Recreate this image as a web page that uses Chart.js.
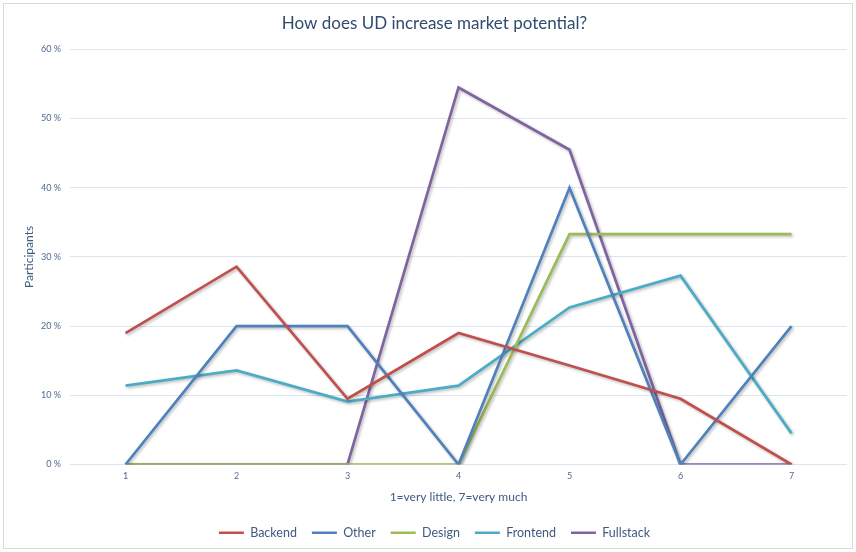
<!DOCTYPE html>
<html>
<head>
<meta charset="utf-8">
<script src="https://cdn.jsdelivr.net/npm/chart.js@4.4.0/dist/chart.umd.min.js"></script>
<style>
  html, body { margin: 0; padding: 0; background: #ffffff; }
  #wrap { width: 856px; height: 552px; position: relative; }
</style>
</head>
<body>
<div id="wrap"><canvas id="c" width="856" height="552"></canvas></div>
<script>
// Share of participants (%) per rating, by developer role
const ratings   = ['1', '2', '3', '4', '5', '6', '7'];
const backend   = [19.0, 28.6, 9.5, 19.0, 14.3, 9.5, 0];
const other     = [0, 20, 20, 0, 40, 0, 20];
const design    = [0, 0, 0, 0, 33.3, 33.3, 33.3];
const frontend  = [11.4, 13.6, 9.1, 11.4, 22.7, 27.3, 4.5];
const fullstack = [0, 0, 0, 54.5, 45.5, 0, 0];
const yTicks    = [0, 10, 20, 30, 40, 50, 60];

const FONT = 'Lato, "Open Sans", sans-serif';

// soft drop shadow under each line, plus the thin frame round the chart
const decor = {
  id: 'decor',
  beforeDatasetDraw(chart) {
    const ctx = chart.ctx;
    ctx.save();
    ctx.shadowColor = 'rgba(0,0,0,0.28)';
    ctx.shadowBlur = 3;
    ctx.shadowOffsetX = 1.5;
    ctx.shadowOffsetY = 1.5;
  },
  afterDatasetDraw(chart) {
    chart.ctx.restore();
  },
  afterDraw(chart) {
    const ctx = chart.ctx;
    ctx.save();
    ctx.strokeStyle = '#d9d9d9';
    ctx.lineWidth = 1;
    ctx.strokeRect(3.5, 3.5, 849, 545);
    ctx.restore();
  }
};

function series(label, data, color) {
  return {
    label, data,
    borderColor: color,
    backgroundColor: color,
    borderWidth: 2.7,
    pointRadius: 0,
    pointHoverRadius: 0,
    tension: 0,
    fill: false
  };
}

new Chart(document.getElementById('c'), {
  type: 'line',
  data: {
    labels: ratings,
    datasets: [
      series('Backend', backend, '#c0504d'),
      series('Other', other, '#4f81bd'),
      series('Design', design, '#9bbb59'),
      series('Frontend', frontend, '#4bacc6'),
      series('Fullstack', fullstack, '#8064a2')
    ]
  },
  options: {
    responsive: false,
    animation: false,
    events: [],
    layout: { padding: { left: 22, right: 9, top: 0, bottom: 3 } },
    plugins: {
      title: {
        display: true,
        text: 'How does UD increase market potential?',
        color: '#2f4b6e',
        font: { family: FONT, size: 17, weight: 'normal' },
        padding: { top: 13, bottom: 16 }
      },
      legend: {
        position: 'bottom',
        labels: {
          usePointStyle: true,
          pointStyle: 'line',
          pointStyleWidth: 25,
          boxHeight: 12,
          color: '#3f5a80',
          font: { family: FONT, size: 12.5 },
          padding: 15
        }
      },
      tooltip: { enabled: false }
    },
    scales: {
      x: {
        offset: true,
        afterFit(scale) { scale.height = 47; },
        grid: { display: false, drawTicks: false },
        border: { display: false },
        ticks: { color: '#50698f', font: { family: FONT, size: 9 }, padding: 6 },
        title: {
          display: true,
          text: '1=very little, 7=very much',
          color: '#3f5a80',
          font: { family: FONT, size: 12 },
          padding: { top: 1, bottom: 7 }
        }
      },
      y: {
        min: 0,
        max: 60,
        afterBuildTicks(scale) { scale.ticks = yTicks.map(v => ({ value: v })); },
        afterFit(scale) { scale.width = 48; },
        grid: { color: '#dce6f2', lineWidth: 1, drawTicks: false },
        border: { display: false },
        ticks: {
          color: '#50698f',
          font: { family: FONT, size: 9 },
          padding: 9,
          callback: v => v + ' %'
        },
        title: {
          display: true,
          text: 'Participants',
          color: '#3f5a80',
          font: { family: FONT, size: 12 },
          padding: 0
        }
      }
    }
  },
  plugins: [decor]
});
</script>
</body>
</html>
